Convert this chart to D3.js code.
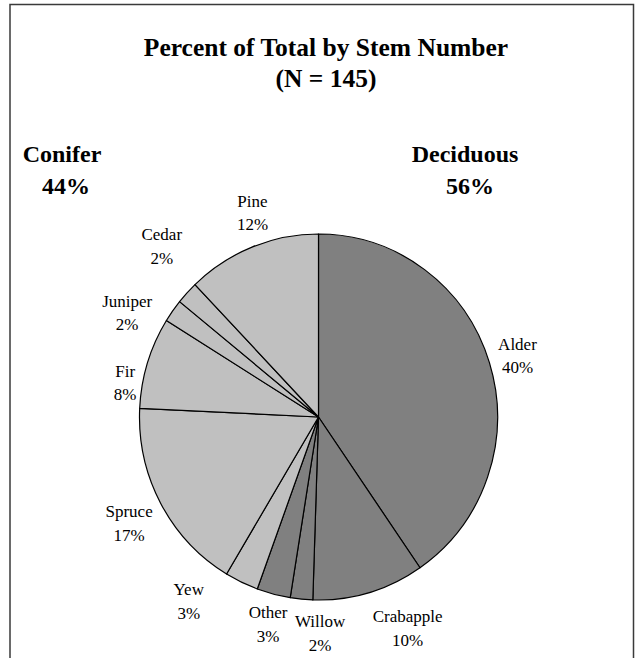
<!DOCTYPE html>
<html>
<head>
<meta charset="utf-8">
<script src="https://cdn.jsdelivr.net/npm/d3@7"></script>
<style>
  html, body { margin: 0; padding: 0; background: #ffffff; }
  svg { display: block; font-family: "Liberation Serif", "Times New Roman", serif; }
</style>
</head>
<body>
<svg id="chart" width="643" height="658"></svg>
<script>
// Species shares of stem count (percent), clockwise from 12 o'clock
const categories = ["Alder", "Crabapple", "Willow", "Other", "Yew", "Spruce", "Fir", "Juniper", "Cedar", "Pine"];
const percents   = [40, 10, 2, 3, 3, 17, 8, 2, 2, 12];
const groupOf    = ["Deciduous", "Deciduous", "Deciduous", "Deciduous", "Conifer", "Conifer", "Conifer", "Conifer", "Conifer", "Conifer"];

// Group totals shown above the pie
const groupNames    = ["Conifer", "Deciduous"];
const groupPercents = [44, 56];

const titleLines = ["Percent of Total by Stem Number", "(N = 145)"];

const W = 643, H = 658;
const cx = 318.5, cy = 417;
const ry = 183, rx = 179;          // pie is very slightly narrower than tall
const labelGap = 10;
const lineH = 23.5;

// fine adjustments to label placement (pixels) where labels crowd
const labelNudge = {
  Alder: [0, 2], Crabapple: [26, 3], Willow: [22, 0], Other: [2, -3], Yew: [-42, -12],
  Spruce: [-2, 3], Fir: [-2, 29], Juniper: [-17, 20], Cedar: [-3, -25], Pine: [10, -4.5]
};

const color = d3.scaleOrdinal()
  .domain(["Deciduous", "Conifer"])
  .range(["#808080", "#c0c0c0"]);

const data = categories.map((c, i) => ({ name: c, value: percents[i], group: groupOf[i] }));

const svg = d3.select("#chart");

// outer frame (open at the bottom edge of the page)
svg.append("path")
  .attr("d", `M10,${H + 5} V4.5 H633.5 V${H + 5}`)
  .attr("fill", "none")
  .attr("stroke", "#3a3a3a")
  .attr("stroke-width", 1.5);

// title
svg.append("g").selectAll("text")
  .data(titleLines)
  .join("text")
  .attr("x", 326)
  .attr("y", (d, i) => 56 + i * 31)
  .attr("text-anchor", "middle")
  .attr("font-weight", "bold")
  .attr("font-size", 25.5)
  .text(d => d);

// group totals
const groupX = { Conifer: 64, Deciduous: 468 };
const groupG = svg.append("g").selectAll("g")
  .data(groupNames.map((g, i) => ({ name: g, pct: groupPercents[i] })))
  .join("g");
groupG.append("text")
  .attr("x", d => groupX[d.name] - (d.name === "Conifer" ? 2 : 3))
  .attr("y", 162)
  .attr("text-anchor", "middle")
  .attr("font-weight", "bold")
  .attr("font-size", 24)
  .text(d => d.name);
groupG.append("text")
  .attr("x", d => groupX[d.name] + 2)
  .attr("y", 194)
  .attr("text-anchor", "middle")
  .attr("font-weight", "bold")
  .attr("font-size", 24)
  .text(d => d.pct + "%");

// pie
const pie = d3.pie().sort(null).value(d => d.value);
const arcs = pie(data);
const arc = d3.arc().innerRadius(0).outerRadius(ry);

svg.append("g")
  .attr("transform", `translate(${cx},${cy}) scale(${rx / ry},1)`)
  .selectAll("path")
  .data(arcs)
  .join("path")
  .attr("d", arc)
  .attr("fill", d => color(d.data.group))
  .attr("stroke", "#000")
  .attr("stroke-width", 1.2)
  .attr("stroke-linejoin", "round")
  .attr("vector-effect", "non-scaling-stroke");

// slice labels, placed just outside the rim along each slice's mid-angle
const labelG = svg.append("g").attr("font-size", 17);
arcs.forEach(d => {
  const g = labelG.append("g");
  const lines = [d.data.name, d.data.value + "%"];
  const t = g.selectAll("text").data(lines).join("text")
    .attr("text-anchor", "middle")
    .attr("x", 0)
    .attr("y", (l, i) => -5 + i * lineH)
    .text(l => l);
  const w = d3.max(t.nodes(), n => n.getComputedTextLength());
  const h = 46;
  const a = (d.startAngle + d.endAngle) / 2;
  const s = Math.sin(a), c = Math.cos(a);
  const ax = cx + (rx + labelGap) * s;
  const ay = cy - (ry + labelGap) * c;
  const nx = labelNudge[d.data.name][0], ny = labelNudge[d.data.name][1];
  g.attr("transform", `translate(${ax + s * w / 2 + nx},${ay - c * h / 2 + ny})`);
});
</script>
</body>
</html>
